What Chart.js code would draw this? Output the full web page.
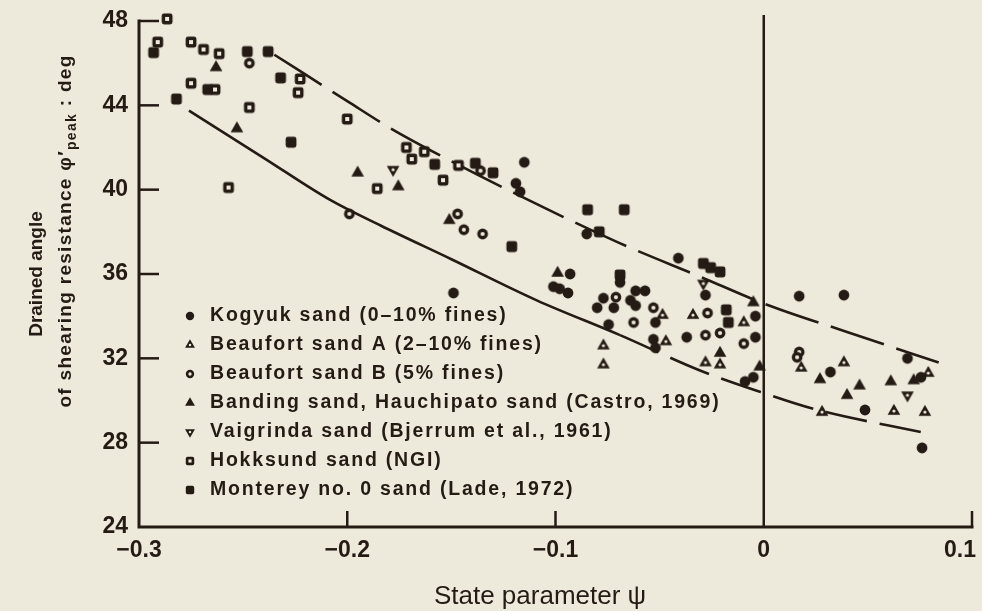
<!DOCTYPE html>
<html>
<head>
<meta charset="utf-8">
<script src="https://cdn.jsdelivr.net/npm/chart.js@4/dist/chart.umd.min.js"></script>
<style>
  html, body { margin: 0; padding: 0; background: #eeeadb; }
  #wrap { width: 982px; height: 611px; }
</style>
</head>
<body>
<div id="wrap"><canvas id="chart" width="982" height="611"></canvas></div>
<script>
// Peak drained friction angle against state parameter, several sands.
const INK = '#241b15';
const PAPER = '#eeeadb';

// [state parameter, phi'peak (deg)]
const kogyuk = [
  [-0.115, 41.3], [-0.119, 40.3], [-0.117, 39.9], [-0.085, 37.9], [-0.149, 35.1], [-0.093, 36.0],
  [-0.101, 35.4], [-0.098, 35.3], [-0.094, 35.1], [-0.069, 35.6], [-0.072, 34.4], [-0.080, 34.4],
  [-0.077, 34.85], [-0.0615, 35.2], [-0.057, 35.2], [-0.064, 34.75], [-0.0615, 34.5], [-0.0745, 33.6],
  [-0.052, 33.7], [-0.053, 32.9], [-0.052, 32.5], [-0.041, 36.75], [-0.028, 35.0], [-0.037, 33.0],
  [-0.004, 34.0], [-0.004, 33.0], [-0.009, 30.9], [-0.005, 31.1], [0.017, 34.95], [0.0385, 35.0],
  [0.032, 31.35], [0.0486, 29.55], [0.069, 32.0], [0.0755, 31.1], [0.076, 27.75]
];
const beaufortA = [
  [-0.077, 32.6], [-0.077, 31.7], [-0.0486, 34.05], [-0.047, 32.8], [-0.034, 34.05], [-0.0096, 33.7],
  [-0.028, 31.8], [-0.021, 31.7], [0.018, 31.55], [0.0385, 31.8], [0.028, 29.45], [0.079, 31.3],
  [0.0625, 29.5], [0.0774, 29.45]
];
const beaufortB = [
  [-0.247, 46.0], [-0.199, 38.85], [-0.136, 40.9], [-0.147, 38.85], [-0.144, 38.1], [-0.135, 37.9],
  [-0.071, 34.9], [-0.053, 34.4], [-0.0625, 33.7], [-0.027, 34.15], [-0.028, 33.1], [-0.021, 33.2],
  [-0.0096, 32.7], [0.017, 32.3], [0.016, 32.05]
];
const banding = [
  [-0.263, 45.8], [-0.253, 42.9], [-0.195, 40.8], [-0.1755, 40.15], [-0.151, 38.55], [-0.099, 36.05],
  [-0.005, 34.65], [-0.021, 32.25], [-0.002, 31.6], [0.027, 31.0], [0.046, 30.7], [0.040, 30.25],
  [0.061, 30.9], [0.072, 30.95]
];
const vaigrinda = [[-0.178, 40.95], [-0.029, 35.55], [0.069, 30.25]];
const hokksund = [
  [-0.2865, 48.1], [-0.291, 47.0], [-0.275, 47.0], [-0.269, 46.65], [-0.2615, 46.45], [-0.275, 45.05],
  [-0.2635, 44.75], [-0.2226, 45.25], [-0.2236, 44.6], [-0.247, 43.9], [-0.200, 43.35], [-0.257, 40.1],
  [-0.1856, 40.05], [-0.1716, 42.0], [-0.163, 41.8], [-0.169, 41.45], [-0.154, 40.45], [-0.1466, 41.15]
];
const monterey = [
  [-0.293, 46.5], [-0.248, 46.55], [-0.238, 46.55], [-0.267, 44.75], [-0.282, 44.3], [-0.232, 45.3],
  [-0.227, 42.25], [-0.158, 41.2], [-0.1385, 41.25], [-0.130, 40.8], [-0.0846, 39.05], [-0.067, 39.05],
  [-0.079, 38.0], [-0.121, 37.3], [-0.069, 35.95], [-0.029, 36.5], [-0.0255, 36.3], [-0.021, 36.1],
  [-0.018, 34.3], [-0.017, 33.7]
];

// Bounding curves
const upperX = [-0.235, -0.2, -0.179, -0.15, -0.12, -0.07, -0.03, 0.0, 0.04, 0.084];
const upperY = [46.4, 44.2, 42.9, 41.35, 39.85, 37.5, 35.85, 34.6, 33.25, 31.8];
const lowerX = [-0.276, -0.24, -0.208, -0.184, -0.15, -0.109, -0.069, -0.03, 0.0, 0.024, 0.078];
const lowerY = [43.75, 41.5, 39.5, 38.3, 36.7, 34.75, 33.1, 31.4, 30.35, 29.6, 28.45];

// Axis ticks
const xTicks = [-0.3, -0.2, -0.1, 0, 0.1];
const yTicks = [24, 28, 32, 36, 40, 44, 48];

const seriesNames = [
  'Kogyuk sand (0\u201310% fines)',
  'Beaufort sand A (2\u201310% fines)',
  'Beaufort sand B (5% fines)',
  'Banding sand, Hauchipato sand (Castro, 1969)',
  'Vaigrinda sand (Bjerrum et al., 1961)',
  'Hokksund sand (NGI)',
  'Monterey no. 0 sand (Lade, 1972)'
];
const markerKinds = ['dot', 'triOpen', 'ring', 'tri', 'triDownOpen', 'boxOpen', 'box'];

const FONT = '"Liberation Sans", Arial, sans-serif';

// Marker glyphs: solid ink shapes, "open" ones keep a small paper-coloured centre.
function shapePath(ctx, kind, s) {
  ctx.beginPath();
  if (kind === 'dot' || kind === 'ring') {
    ctx.arc(0, 0, 5.4 * s, 0, Math.PI * 2);
  } else if (kind.startsWith('tri')) {
    const R = 7.3 * s, dir = kind.startsWith('triDown') ? -1 : 1;
    ctx.moveTo(0, -R * dir);
    ctx.lineTo(R * 0.866, R * 0.5 * dir);
    ctx.lineTo(-R * 0.866, R * 0.5 * dir);
    ctx.closePath();
  } else {
    const h = 5.4 * s, c = 2.4 * s;
    ctx.moveTo(-h + c, -h);
    ctx.arcTo(h, -h, h, h, c); ctx.arcTo(h, h, -h, h, c);
    ctx.arcTo(-h, h, -h, -h, c); ctx.arcTo(-h, -h, h, -h, c);
    ctx.closePath();
  }
}
function drawMarker(ctx, kind, x, y, s) {
  ctx.save();
  ctx.translate(x, y);
  shapePath(ctx, kind, s);
  ctx.fillStyle = INK;
  ctx.fill();
  ctx.fillStyle = PAPER;
  if (kind === 'ring') {
    ctx.beginPath(); ctx.arc(0, 0, 2.1 * s, 0, Math.PI * 2); ctx.fill();
  } else if (kind === 'triOpen' || kind === 'triDownOpen') {
    ctx.beginPath(); ctx.arc(0, 0, 1.6 * s, 0, Math.PI * 2); ctx.fill();
  } else if (kind === 'boxOpen') {
    const h = 2 * s;
    ctx.beginPath(); ctx.rect(-h, -h, 2 * h, 2 * h); ctx.fill();
  }
  ctx.restore();
}
function markerCanvas(kind, s) {
  const c = document.createElement('canvas');
  c.width = 20; c.height = 20;
  drawMarker(c.getContext('2d'), kind, 10, 10, s);
  return c;
}

const pts = arr => arr.map(p => ({ x: p[0], y: p[1] }));
const zip = (xs, ys) => xs.map((x, i) => ({ x, y: ys[i] }));

const groups = [kogyuk, beaufortA, beaufortB, banding, vaigrinda, hokksund, monterey];
const datasets = groups.map((g, i) => ({
  type: 'scatter',
  label: seriesNames[i],
  data: pts(g),
  order: 0,
  clip: false,
  pointStyle: markerCanvas(markerKinds[i], 1),
  pointRadius: 6,
  pointHoverRadius: 6
}));

datasets.push({
  type: 'line', label: 'upper bound', data: zip(upperX, upperY), order: 10,
  borderColor: INK, borderWidth: 2.6, pointRadius: 0, fill: false,
  cubicInterpolationMode: 'monotone', borderDash: [56, 13]
});
datasets.push({
  type: 'line', label: 'lower bound', data: zip(lowerX, lowerY), order: 10,
  borderColor: INK, borderWidth: 2.6, pointRadius: 0, fill: false,
  cubicInterpolationMode: 'monotone',
  segment: { borderDash: c => (c.p0.parsed.x >= -0.1 ? [42, 13] : []) }
});

const fmtX = v => (Math.abs(v) < 1e-9 ? '0' : (v < 0 ? '\u2212' : '') + Math.abs(v).toFixed(1));

const decor = {
  id: 'decor',
  beforeDraw(chart) {
    const c = chart.ctx;
    c.save(); c.fillStyle = PAPER; c.fillRect(0, 0, chart.width, chart.height); c.restore();
  },
  beforeDatasetsDraw(chart) {
    const { ctx, chartArea: a } = chart;
    const xs = chart.scales.x, ys = chart.scales.y;
    ctx.save();
    ctx.strokeStyle = INK;
    // psi = 0 reference line
    const x0 = xs.getPixelForValue(0);
    ctx.lineWidth = 2.5;
    ctx.beginPath(); ctx.moveTo(x0, a.top - 6); ctx.lineTo(x0, a.bottom); ctx.stroke();
    // axes
    ctx.lineWidth = 3; ctx.lineCap = 'square';
    ctx.beginPath(); ctx.moveTo(a.left, a.top); ctx.lineTo(a.left, a.bottom); ctx.lineTo(a.right, a.bottom); ctx.stroke();
    // inward ticks
    ctx.lineWidth = 2.5; ctx.lineCap = 'butt';
    yTicks.forEach(v => {
      if (v === ys.min) return;
      const p = ys.getPixelForValue(v);
      ctx.beginPath(); ctx.moveTo(a.left, p); ctx.lineTo(a.left + 20, p); ctx.stroke();
    });
    xTicks.forEach(v => {
      if (v === 0 || v === xs.min) return;
      const p = xs.getPixelForValue(v);
      ctx.beginPath(); ctx.moveTo(p, a.bottom); ctx.lineTo(p, a.bottom - 16); ctx.stroke();
    });
    ctx.restore();
  },
  afterDraw(chart) {
    const { ctx, chartArea: a } = chart;
    const xs = chart.scales.x;
    ctx.save();
    ctx.fillStyle = INK;

    // x tick labels, kept inside the canvas at the right end
    ctx.font = 'bold 23px ' + FONT;
    ctx.textAlign = 'center';
    ctx.textBaseline = 'middle';
    xTicks.forEach(v => {
      const t = fmtX(v);
      const w = ctx.measureText(t).width;
      const p = Math.min(xs.getPixelForValue(v), chart.width - w / 2 - 6);
      ctx.fillText(t, p, a.bottom + 24);
    });

    // legend
    ctx.font = 'bold 19.5px ' + FONT;
    ctx.letterSpacing = '1.8px';
    ctx.textAlign = 'left';
    seriesNames.forEach((name, i) => {
      const yy = a.top + 295 + 29 * i;
      drawMarker(ctx, markerKinds[i], a.left + 51, yy, 0.78);
      ctx.fillStyle = INK;
      ctx.fillText(name, a.left + 71, yy);
    });
    ctx.letterSpacing = '0px';

    // x title
    ctx.font = '26px ' + FONT;
    ctx.textAlign = 'center';
    ctx.fillText('State parameter \u03c8', 540, 597);

    // y title, two rotated lines
    ctx.font = 'bold 19px ' + FONT;
    ctx.save();
    ctx.translate(37, (a.top + a.bottom) / 2);
    ctx.rotate(-Math.PI / 2);
    ctx.fillText('Drained angle', 0, 0);
    ctx.restore();

    ctx.letterSpacing = '1.3px';
    const big = 'bold 19px ' + FONT;
    const small = 'bold 14px ' + FONT;
    const parts = [
      { t: 'of shearing resistance \u03c6\u2032', f: big, dy: 0 },
      { t: 'peak', f: small, dy: 6 },
      { t: ' : deg', f: big, dy: 0 }
    ];
    let total = 0;
    parts.forEach(p => { ctx.font = p.f; p.w = ctx.measureText(p.t).width; total += p.w; });
    ctx.save();
    ctx.translate(66, 231 + total / 2);
    ctx.rotate(-Math.PI / 2);
    ctx.textAlign = 'left';
    let cx = 0;
    parts.forEach(p => { ctx.font = p.f; ctx.fillText(p.t, cx, p.dy); cx += p.w; });
    ctx.restore();
    ctx.letterSpacing = '0px';
    ctx.restore();
  }
};

new Chart(document.getElementById('chart'), {
  data: { datasets },
  options: {
    responsive: false,
    animation: false,
    events: [],
    layout: { padding: { top: 21, right: 10, left: 0, bottom: 0 } },
    plugins: { legend: { display: false }, tooltip: { enabled: false } },
    scales: {
      x: {
        type: 'linear', min: -0.3, max: 0.1,
        afterFit: s => { s.height = 84; s.paddingLeft = 0; s.paddingRight = 0; },
        afterBuildTicks: s => { s.ticks = xTicks.map(v => ({ value: v })); },
        grid: { display: false, drawTicks: false },
        border: { display: false },
        ticks: { display: false }
      },
      y: {
        type: 'linear', min: 24, max: 48,
        afterFit: s => { s.width = 139; s.paddingTop = 0; s.paddingBottom = 0; },
        afterBuildTicks: s => { s.ticks = yTicks.map(v => ({ value: v })); },
        grid: { display: false, drawTicks: false },
        border: { display: false },
        ticks: { padding: 11, color: INK, font: { family: FONT, size: 23, weight: 'bold' }, callback: v => String(v) }
      }
    }
  },
  plugins: [decor]
});
</script>
</body>
</html>
